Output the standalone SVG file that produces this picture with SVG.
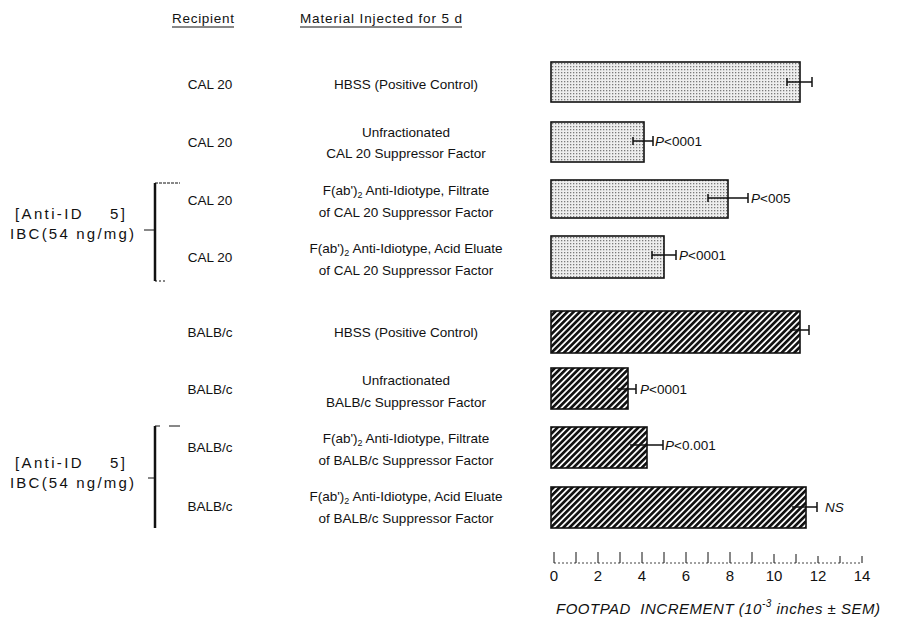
<svg xmlns="http://www.w3.org/2000/svg" width="902" height="629" viewBox="0 0 902 629">
<defs>
<pattern id="dots" width="3" height="3" patternUnits="userSpaceOnUse">
<rect width="3" height="3" fill="#eeeeee"/>
<rect x="0" y="0" width="1.3" height="1.3" fill="#7a7a7a"/>
</pattern>
<pattern id="hatch" width="4.4" height="4.4" patternUnits="userSpaceOnUse" patternTransform="rotate(45)">
<rect width="4.4" height="4.4" fill="#fff"/>
<rect x="0" y="0" width="2.7" height="4.4" fill="#111"/>
</pattern>
<style>
text{font-family:"Liberation Sans","DejaVu Sans",sans-serif;font-size:13.5px;fill:#111;white-space:pre}
.c{text-anchor:middle}
.it{font-style:italic}
.ax{font-size:15px}
.lb{font-size:15px}
.bar{stroke:#111;stroke-width:1.6}
.eb{stroke:#111;stroke-width:1.5;fill:none}
.ln{stroke:#111;fill:none}
</style>
</defs>
<rect width="902" height="629" fill="#fff"/>
<g id="headers">
<text x="172" y="23" textLength="62">Recipient</text>
<line class="ln" x1="172" y1="27" x2="234" y2="27" stroke-width="1"/>
<text x="300" y="23" textLength="162">Material Injected for 5 d</text>
<line class="ln" x1="300" y1="27" x2="462" y2="27" stroke-width="1"/>
</g>
<g id="recipients">
<text class="c" x="210" y="89">CAL 20</text>
<text class="c" x="210" y="147">CAL 20</text>
<text class="c" x="210" y="205">CAL 20</text>
<text class="c" x="210" y="262">CAL 20</text>
<text class="c" x="210" y="337">BALB/c</text>
<text class="c" x="210" y="394">BALB/c</text>
<text class="c" x="210" y="452">BALB/c</text>
<text class="c" x="210" y="511">BALB/c</text>
</g>
<g id="materials">
<text class="c" x="406" y="89">HBSS (Positive Control)</text>
<text class="c" x="406" y="137">Unfractionated</text>
<text class="c" x="406" y="158">CAL 20 Suppressor Factor</text>
<text class="c" x="406" y="195">F(ab')<tspan font-size="9" dy="3">2</tspan><tspan dy="-3"> Anti-Idiotype, Filtrate</tspan></text>
<text class="c" x="406" y="217">of CAL 20 Suppressor Factor</text>
<text class="c" x="406" y="253">F(ab')<tspan font-size="9" dy="3">2</tspan><tspan dy="-3"> Anti-Idiotype, Acid Eluate</tspan></text>
<text class="c" x="406" y="275">of CAL 20 Suppressor Factor</text>
<text class="c" x="406" y="337">HBSS (Positive Control)</text>
<text class="c" x="406" y="385">Unfractionated</text>
<text class="c" x="406" y="407">BALB/c Suppressor Factor</text>
<text class="c" x="406" y="443">F(ab')<tspan font-size="9" dy="3">2</tspan><tspan dy="-3"> Anti-Idiotype, Filtrate</tspan></text>
<text class="c" x="406" y="465">of BALB/c Suppressor Factor</text>
<text class="c" x="406" y="501">F(ab')<tspan font-size="9" dy="3">2</tspan><tspan dy="-3"> Anti-Idiotype, Acid Eluate</tspan></text>
<text class="c" x="406" y="523">of BALB/c Suppressor Factor</text>
</g>
<g id="bracket1">
<text class="lb" x="15" y="219" textLength="110" lengthAdjust="spacing">[Anti-ID    5]</text>
<text class="lb" x="10" y="239" textLength="124" lengthAdjust="spacing">IBC(54 ng/mg)</text>
<path class="ln" d="M155,183 V281" stroke-width="2.5"/>
<path class="ln" d="M155,183 H180" stroke-width="1" stroke-dasharray="3,1"/>
<path class="ln" d="M155,281 H165" stroke-width="1" stroke-dasharray="2,2"/>
<path class="ln" d="M144,230 H155" stroke-width="1"/>
</g>
<g id="bracket2">
<text class="lb" x="15" y="468" textLength="110" lengthAdjust="spacing">[Anti-ID    5]</text>
<text class="lb" x="10" y="488" textLength="124" lengthAdjust="spacing">IBC(54 ng/mg)</text>
<path class="ln" d="M155,426 V528" stroke-width="2.5"/>
<path class="ln" d="M155,426 H160 M169,426 H180" stroke-width="1"/>
<path class="ln" d="M148,478 H155" stroke-width="1"/>
</g>
<g id="bars">
<rect class="bar" x="551" y="62" width="249" height="40" fill="url(#dots)"/>
<rect class="bar" x="551" y="122" width="93" height="40" fill="url(#dots)"/>
<rect class="bar" x="551" y="180" width="177" height="38" fill="url(#dots)"/>
<rect class="bar" x="551" y="236" width="113" height="42" fill="url(#dots)"/>
<rect class="bar" x="551" y="311" width="249" height="42" fill="url(#hatch)"/>
<rect class="bar" x="551" y="368" width="77" height="41" fill="url(#hatch)"/>
<rect class="bar" x="551" y="427" width="96" height="41" fill="url(#hatch)"/>
<rect class="bar" x="551" y="487" width="255" height="41" fill="url(#hatch)"/>
</g>
<g id="errorbars">
<path class="eb" d="M787,82 H812 M787,78 V86 M812,77 V87"/>
<path class="eb" d="M633,141 H653 M633,137 V145 M653,136 V146"/>
<path class="eb" d="M708,198 H748 M708,194 V202 M748,193 V203"/>
<path class="eb" d="M652,255 H676 M652,251 V259 M676,250 V260"/>
<path class="eb" d="M790,330 H800" stroke="#fff"/>
<path class="eb" d="M800,330 H809 M809,325 V335"/>
<path class="eb" d="M617,389 H628" stroke="#fff"/>
<path class="eb" d="M628,389 H636 M636,384 V394"/>
<path class="eb" d="M630,445 H647" stroke="#fff"/>
<path class="eb" d="M647,445 H663 M663,440 V450"/>
<path class="eb" d="M792,507 H806" stroke="#fff"/>
<path class="eb" d="M806,507 H817 M817,502 V512"/>
</g>
<g id="pvalues">
<text x="655" y="146"><tspan class="it">P</tspan>&lt;0001</text>
<text x="751" y="203"><tspan class="it">P</tspan>&lt;005</text>
<text x="679" y="260"><tspan class="it">P</tspan>&lt;0001</text>
<text x="640" y="394"><tspan class="it">P</tspan>&lt;0001</text>
<text x="665" y="450"><tspan class="it">P</tspan>&lt;0.001</text>
<text class="it" x="825" y="512">NS</text>
</g>
<g id="axis">
<path class="ln" d="M554,563 H862" stroke-width="0.8" stroke="#888" stroke-dasharray="2,2"/>
<path class="ln" stroke-width="1" d="M554,552 V563 M576,552 V563 M598,552 V563 M620,552 V563 M642,552 V563 M664,552 V563 M686,552 V563 M708,552 V563 M730,552 V563 M752,552 V563 M774,554 V563 M796,554 V563 M818,556 V563 M840,556 V563 M862,556 V563"/>
<text class="c ax" x="554" y="581">0</text>
<text class="c ax" x="598" y="581">2</text>
<text class="c ax" x="642" y="581">4</text>
<text class="c ax" x="686" y="581">6</text>
<text class="c ax" x="730" y="581">8</text>
<text class="c ax" x="774" y="581">10</text>
<text class="c ax" x="818" y="581">12</text>
<text class="c ax" x="862" y="581">14</text>
<text class="it ax" x="556" y="614" textLength="324" lengthAdjust="spacing">FOOTPAD  INCREMENT (10<tspan font-size="10" dy="-7">-3</tspan><tspan dy="7"> inches ± SEM)</tspan></text>
</g>
</svg>
